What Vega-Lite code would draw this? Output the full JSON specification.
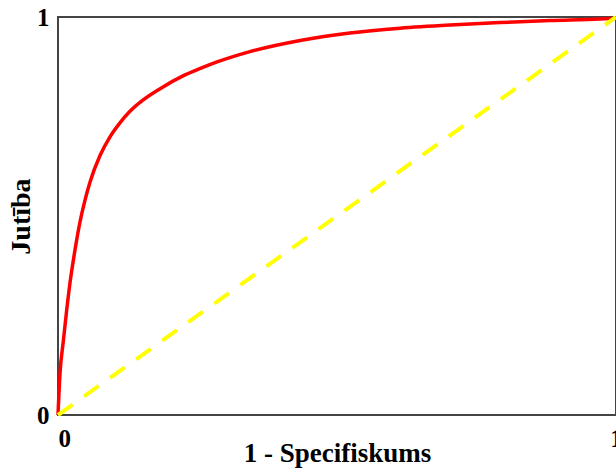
{
  "$schema": "https://vega.github.io/schema/vega-lite/v6.json",
  "autosize": "none",
  "width": 558,
  "height": 398,
  "padding": {"left": 58, "top": 17, "right": 0, "bottom": 59},
  "background": "white",
  "config": {
    "view": {"stroke": "#444444", "strokeWidth": 2},
    "axis": {
      "labelFont": "Liberation Serif",
      "labelFontWeight": "bold",
      "labelFontSize": 25,
      "labelColor": "black",
      "titleFont": "Liberation Serif",
      "titleFontWeight": "bold",
      "titleColor": "black",
      "grid": false,
      "ticks": false,
      "domain": false,
      "format": "d"
    }
  },
  "datasets": {
    "roc": [
      {"fpr": 0, "tpr": 0},
      {"fpr": 0.0036, "tpr": 0.105},
      {"fpr": 0.0095, "tpr": 0.185},
      {"fpr": 0.0156, "tpr": 0.264},
      {"fpr": 0.0215, "tpr": 0.332},
      {"fpr": 0.0305, "tpr": 0.415},
      {"fpr": 0.0394, "tpr": 0.485},
      {"fpr": 0.0484, "tpr": 0.54},
      {"fpr": 0.0573, "tpr": 0.585},
      {"fpr": 0.0753, "tpr": 0.652},
      {"fpr": 0.0932, "tpr": 0.699},
      {"fpr": 0.111, "tpr": 0.734},
      {"fpr": 0.129, "tpr": 0.763},
      {"fpr": 0.152, "tpr": 0.791},
      {"fpr": 0.183, "tpr": 0.82},
      {"fpr": 0.224, "tpr": 0.852},
      {"fpr": 0.254, "tpr": 0.87},
      {"fpr": 0.285, "tpr": 0.887},
      {"fpr": 0.344, "tpr": 0.913},
      {"fpr": 0.434, "tpr": 0.941},
      {"fpr": 0.523, "tpr": 0.96},
      {"fpr": 0.613, "tpr": 0.972},
      {"fpr": 0.703, "tpr": 0.98},
      {"fpr": 0.792, "tpr": 0.986},
      {"fpr": 0.882, "tpr": 0.991},
      {"fpr": 0.971, "tpr": 0.995},
      {"fpr": 1, "tpr": 0.997}
    ],
    "diag": [
      {"fpr": 0, "tpr": 0},
      {"fpr": 1, "tpr": 1}
    ]
  },
  "layer": [
    {
      "data": {"name": "roc"},
      "mark": {"type": "line", "color": "#FF0000", "strokeWidth": 3.5, "interpolate": "monotone"},
      "encoding": {
        "x": {
          "field": "fpr", "type": "quantitative",
          "scale": {"domain": [0, 1], "nice": false},
          "axis": {
            "title": "1 - Specifiskums",
            "titleFontSize": 27,
            "values": [0, 1],
            "labelPadding": 11,
            "titlePadding": -11,
            "labelAlign": {"condition": {"test": "datum.value == 0", "value": "left"}, "value": "center"}
          }
        },
        "y": {
          "field": "tpr", "type": "quantitative",
          "scale": {"domain": [0, 1], "nice": false},
          "axis": {
            "title": "Jutība",
            "titleFontSize": 28,
            "values": [0, 1],
            "labelPadding": 9,
            "titlePadding": 1
          }
        }
      }
    },
    {
      "data": {"name": "diag"},
      "mark": {"type": "line", "color": "#FFFF00", "strokeWidth": 4, "strokeDash": [18, 14]},
      "encoding": {
        "x": {"field": "fpr", "type": "quantitative"},
        "y": {"field": "tpr", "type": "quantitative"}
      }
    }
  ]
}
